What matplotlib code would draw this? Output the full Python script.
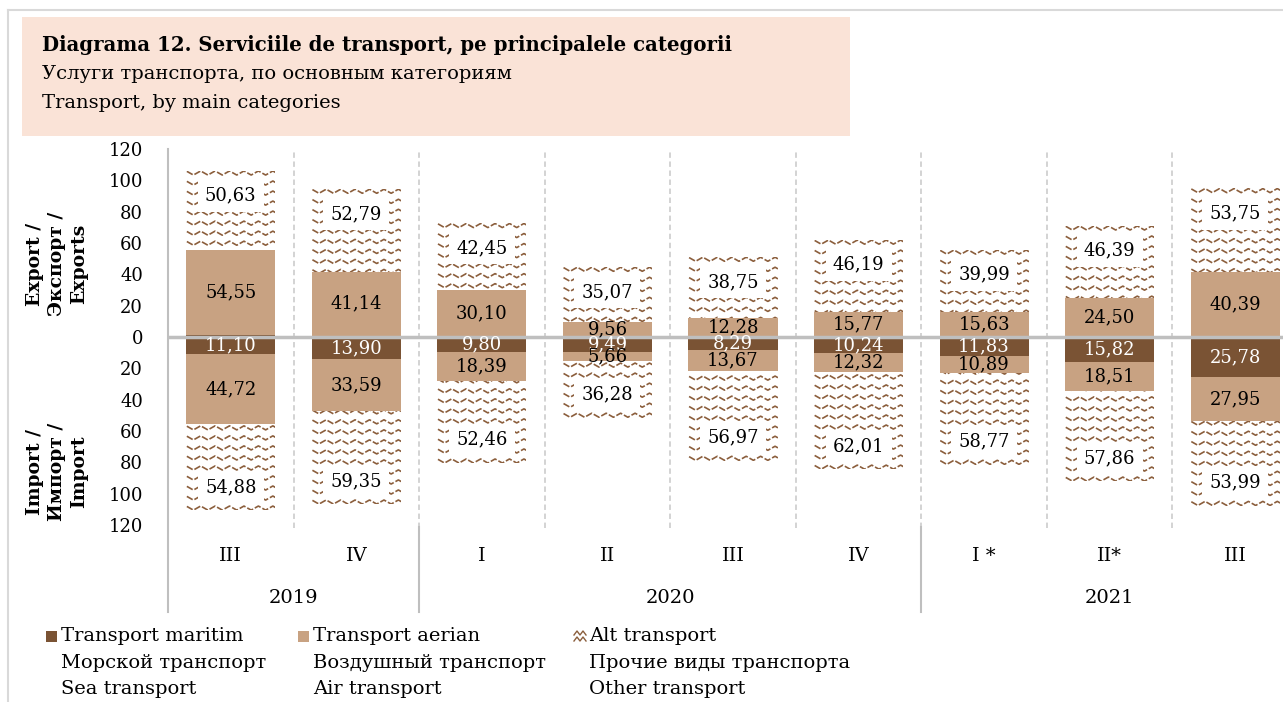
import numpy as np
import matplotlib.pyplot as plt
from matplotlib.collections import LineCollection
from matplotlib.lines import Line2D
from matplotlib.patches import Rectangle

# date trimestriale, mil. USD
quarters = ['III', 'IV', 'I', 'II', 'III', 'IV', 'I *', 'II*', 'III']
years = ['2019', '2020', '2021']
year_sizes = [2, 4, 3]

exp_sea = [1.0, 0.6, 0.1, 0.1, 0.1, 0.1, 0.1, 0.2, 0.8]
exp_air = [54.55, 41.14, 30.10, 9.56, 12.28, 15.77, 15.63, 24.50, 40.39]
exp_other = [50.63, 52.79, 42.45, 35.07, 38.75, 46.19, 39.99, 46.39, 53.75]
imp_sea = [11.10, 13.90, 9.80, 9.49, 8.29, 10.24, 11.83, 15.82, 25.78]
imp_air = [44.72, 33.59, 18.39, 5.66, 13.67, 12.32, 10.89, 18.51, 27.95]
imp_other = [54.88, 59.35, 52.46, 36.28, 56.97, 62.01, 58.77, 57.86, 53.99]

yticks = [-120, -100, -80, -60, -40, -20, 0, 20, 40, 60, 80, 100, 120]

DARK = '#7A5334'
TAN = '#C8A282'
WAVE = '#8B5E3C'
FONT = 'DejaVu Serif'

plt.rcParams['font.family'] = FONT
W, H = 1283, 702


def fmt(v):
    return f'{v:.2f}'.replace('.', ',')


def add_waves(ax, patch):
    # model "zigzag" pentru Alt transport, decupat pe bara
    x0, w = patch.get_x(), patch.get_width()
    y0, h = patch.get_y(), patch.get_height()
    ylo, yhi = min(y0, y0 + h), max(y0, y0 + h)
    period, amp, step = 0.115, 1.3, 6.4
    xs = np.arange(x0 - period, x0 + w + period, period / 2)
    segs = []
    if h > 0:
        rows = np.arange(yhi - 1.5, ylo - step, -step)
    else:
        rows = np.arange(ylo + 1.5, yhi + step, step)
    for yr in rows:
        ys = yr + amp * np.where(np.arange(len(xs)) % 2 == 0, 1, -1)
        segs.append(np.column_stack([xs, ys]))
    lc = LineCollection(segs, colors=WAVE, linewidths=1.2, linestyles=[(0, (4, 1.2))], zorder=3)
    ax.add_collection(lc)
    lc.set_clip_path(patch)


fig = plt.figure(figsize=(W / 100, H / 100), dpi=100)

# chenar exterior
fig.add_artist(Line2D([8 / W, 8 / W], [0, 1 - 10 / H], color='#D9D9D9', lw=1.5))
fig.add_artist(Line2D([8 / W, 1], [1 - 10 / H, 1 - 10 / H], color='#D9D9D9', lw=1.5))

# caseta titlu
fig.add_artist(Rectangle((22 / W, 1 - 136 / H), (850 - 22) / W, (136 - 17) / H,
                         transform=fig.transFigure, facecolor='#FAE3D7', edgecolor='none'))
fig.text(42 / W, 1 - 45 / H, 'Diagrama 12. Serviciile de transport, pe principalele categorii',
         fontsize=14.2, fontweight='bold', va='center')
fig.text(42 / W, 1 - 74 / H, 'Услуги транспорта, по основным категориям', fontsize=14, va='center')
fig.text(42 / W, 1 - 103 / H, 'Transport, by main categories', fontsize=14, va='center')

ax = fig.add_axes([168 / W, 1 - 525 / H, 1130 / W, 376 / H])
x = np.arange(len(quarters))
bw = 0.71

exp_sea_a = np.array(exp_sea)
exp_air_a = np.array(exp_air)
exp_oth_a = np.array(exp_other)
imp_sea_a = np.array(imp_sea)
imp_air_a = np.array(imp_air)
imp_oth_a = np.array(imp_other)

ax.bar(x, exp_sea_a, bw, color=DARK, zorder=2)
ax.bar(x, exp_air_a, bw, bottom=exp_sea_a, color=TAN, zorder=2)
b_exp_oth = ax.bar(x, exp_oth_a, bw, bottom=exp_sea_a + exp_air_a, color='white', zorder=2)
ax.bar(x, -imp_sea_a, bw, color=DARK, zorder=2)
ax.bar(x, -imp_air_a, bw, bottom=-imp_sea_a, color=TAN, zorder=2)
b_imp_oth = ax.bar(x, -imp_oth_a, bw, bottom=-(imp_sea_a + imp_air_a), color='white', zorder=2)

for p in list(b_exp_oth) + list(b_imp_oth):
    add_waves(ax, p)

lbl = dict(fontsize=13, ha='center', va='center', zorder=5)
box = dict(boxstyle='square,pad=0.4', facecolor='white', edgecolor='none')
for i in range(len(x)):
    ax.text(x[i], exp_sea_a[i] + exp_air_a[i] / 2, fmt(exp_air_a[i]), color='black', **lbl)
    top = exp_sea_a[i] + exp_air_a[i] + exp_oth_a[i]
    ax.text(x[i], top - 16, fmt(exp_oth_a[i]), color='black', bbox=box, **lbl)
    ax.text(x[i], -imp_sea_a[i] / 2, fmt(imp_sea_a[i]), color='white', **lbl)
    ax.text(x[i], -imp_sea_a[i] - imp_air_a[i] / 2, fmt(imp_air_a[i]), color='black', **lbl)
    bot = imp_sea_a[i] + imp_air_a[i] + imp_oth_a[i]
    ax.text(x[i], -bot + 15, fmt(imp_oth_a[i]), color='black', bbox=box, **lbl)

ax.axhline(0, color='#BFBFBF', lw=2.5, zorder=4)
ax.set_xlim(-0.5, len(x) - 0.5)
ax.set_ylim(-120, 120)
ax.set_yticks(yticks)
ax.set_yticklabels([str(abs(t)) for t in yticks], fontsize=13)
ax.tick_params(axis='y', length=0, pad=18)
ax.set_xticks([])
for s in ax.spines.values():
    s.set_visible(False)

# linii verticale intre trimestre
for b in np.arange(0.5, len(x) - 0.5):
    ax.plot([b, b], [-122, 120], color='#D0D0D0', lw=1.3, ls=(0, (3, 2)), zorder=1, clip_on=False)

trans = ax.get_xaxis_transform()
px = 1 / 376  # un pixel in unitati de axa (verticala)
ax.plot([-0.5, -0.5], [1, -87 * px], color='#BFBFBF', lw=1.5, transform=trans, clip_on=False)
start = 0
for yr, n in zip(years, year_sizes):
    ax.text(start + (n - 1) / 2, -73 * px, yr, transform=trans, ha='center', va='center', fontsize=14)
    start += n
    if start < len(x):
        ax.plot([start - 0.5] * 2, [-2 * px, -87 * px], color='#BFBFBF', lw=1.5,
                transform=trans, clip_on=False)
for i, q in enumerate(quarters):
    ax.text(i, -31 * px, q, transform=trans, ha='center', va='center', fontsize=14)

fig.text(57 / W, 1 - 264 / H, 'Export /\nЭкспорт /\nExports', rotation=90, ha='center', va='center',
         fontsize=13.5, fontweight='bold', linespacing=1.3, multialignment='center')
fig.text(57 / W, 1 - 472 / H, 'Import /\nИмпорт /\nImport', rotation=90, ha='center', va='center',
         fontsize=13.5, fontweight='bold', linespacing=1.3, multialignment='center')

# legenda
legend_items = [
    (46, DARK, ['Transport maritim', 'Морской транспорт', 'Sea transport']),
    (298, TAN, ['Transport aerian', 'Воздушный транспорт', 'Air transport']),
    (574, None, ['Alt transport', 'Прочие виды транспорта', 'Other transport']),
]
for xp, col, lines in legend_items:
    if col is not None:
        fig.add_artist(Rectangle((xp / W, 1 - 642 / H), 11 / W, 11 / H, transform=fig.transFigure,
                                 facecolor=col, edgecolor='none'))
    else:
        for yy in (633, 639):
            zx = np.array([xp, xp + 3, xp + 6, xp + 9, xp + 12]) / W
            zy = 1 - (yy + np.array([2, -2, 2, -2, 2])) / H
            fig.add_artist(Line2D(zx, zy, color=WAVE, lw=1.0))
    for k, t in enumerate(lines):
        fig.text((xp + 15) / W, 1 - (636 + 26.5 * k) / H, t, fontsize=14, va='center')

fig.savefig('out.png', dpi=100)
